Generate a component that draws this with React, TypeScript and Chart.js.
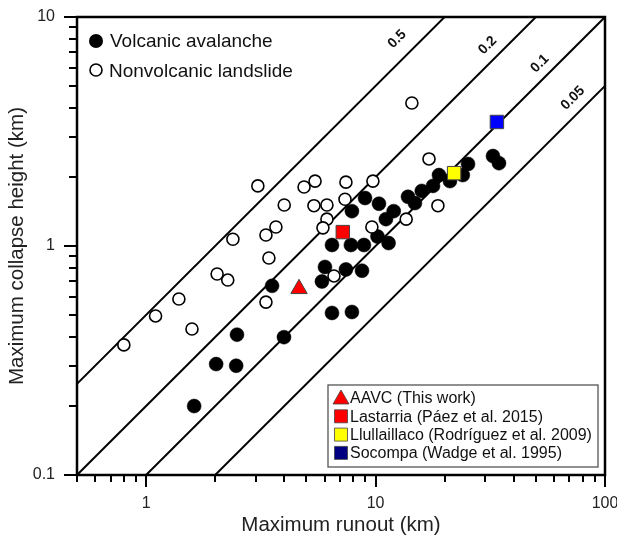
import React, { useEffect, useRef } from 'react';
import { Chart, registerables } from 'chart.js';

Chart.register(...registerables);

const FONT = '"Liberation Sans", Arial, Helvetica, sans-serif';

// Volcanic avalanches (filled circles)
const volcanicRunout = [1.62, 2.02, 2.47, 2.49, 3.54, 3.99, 6.46, 7.81, 8.9, 10.2, 7.89, 9.0, 10.35, 6.02, 5.84, 7.43, 8.73, 6.46, 7.89, 12.0, 11.1, 11.4, 13.85, 14.85, 15.9, 17.8, 18.9, 21.1, 24.0, 25.3, 32.5, 34.5];
const volcanicHeight = [0.2, 0.305, 0.3, 0.41, 0.67, 0.4, 1.01, 1.01, 1.01, 1.1, 1.42, 1.62, 1.53, 0.81, 0.7, 0.79, 0.78, 0.51, 0.515, 1.42, 1.31, 1.03, 1.64, 1.54, 1.74, 1.83, 2.04, 1.92, 2.04, 2.28, 2.47, 2.3];

// Nonvolcanic landslides (open circles)
const nonvolcanicRunout = [0.8, 1.1, 1.39, 1.585, 2.04, 2.27, 2.39, 3.07, 3.33, 3.33, 3.68, 3.43, 4.0, 4.88, 5.45, 5.39, 6.14, 6.14, 5.9, 7.36, 7.43, 9.74, 9.64, 6.59, 13.6, 17.1, 18.7, 14.4];
const nonvolcanicHeight = [0.37, 0.495, 0.587, 0.434, 0.755, 0.71, 1.07, 1.83, 0.569, 1.117, 1.21, 0.886, 1.51, 1.81, 1.92, 1.5, 1.51, 1.31, 1.2, 1.6, 1.9, 1.92, 1.21, 0.74, 1.31, 2.4, 1.5, 4.21];

// Highlighted deposits
const specialNames = ['AAVC (This work)', 'Lastarria (Páez et al. 2015)', 'Llullaillaco (Rodríguez et al. 2009)', 'Socompa (Wadge et al. 1995)'];
const specialRunout = [4.64, 7.2, 22.0, 33.8];
const specialHeight = [0.65, 1.15, 2.08, 3.48];
const specialColors = ['#ff0000', '#ff0000', '#ffff00', '#0000ff'];
const specialLegendColors = ['#ff0000', '#ff0000', '#ffff00', '#000080'];
const specialStyles = ['triangle', 'rect', 'rect', 'rect'];

// H/L reference lines
const ratioValues = [0.5, 0.2, 0.1, 0.05];
const ratioLabels = ['0.5', '0.2', '0.1', '0.05'];
const ratioLabelRunout = [14.1, 34.0, 57.0, 80.1];
const ratioLabelOffset = [18, 14, 13, 14];

// Axes
const xRange = [0.5, 100];
const yRange = [0.1, 10];
const xTicks = [0.5, 0.6, 0.7, 0.8, 0.9, 1, 2, 3, 4, 5, 6, 7, 8, 9, 10, 20, 30, 40, 50, 60, 70, 80, 90, 100];
const xMajor = [1, 10, 100];
const yTicks = [0.1, 0.2, 0.3, 0.4, 0.5, 0.6, 0.7, 0.8, 0.9, 1, 2, 3, 4, 5, 6, 7, 8, 9, 10];
const yMajor = [0.1, 1, 10];

const topLegend = ['Volcanic avalanche', 'Nonvolcanic landslide'];

const isMajor = (list: number[], v: number) => list.some((m) => Math.abs(m - v) < 1e-9);

const decorPlugin = {
  id: 'decor',
  afterDraw(chart: any) {
    const { ctx, chartArea: a, scales } = chart;
    const xs = scales.x;
    const ys = scales.y;
    ctx.save();

    // frame
    ctx.strokeStyle = '#000';
    ctx.lineWidth = 2.5;
    ctx.strokeRect(a.left, a.top, a.right - a.left, a.bottom - a.top);

    // ticks
    ctx.lineWidth = 2;
    ctx.beginPath();
    for (const t of xs.ticks) {
      const px = Math.round(xs.getPixelForValue(t.value));
      const len = isMajor(xMajor, t.value) ? 12 : 7;
      ctx.moveTo(px, a.bottom);
      ctx.lineTo(px, a.bottom + len);
    }
    for (const t of ys.ticks) {
      const py = Math.round(ys.getPixelForValue(t.value));
      const len = isMajor(yMajor, t.value) ? 13 : 8;
      ctx.moveTo(a.left, py);
      ctx.lineTo(a.left - len, py);
    }
    ctx.stroke();

    // ratio labels
    ctx.save();
    ctx.beginPath();
    ctx.rect(a.left, a.top, a.right - a.left, a.bottom - a.top);
    ctx.clip();
    ctx.fillStyle = '#111';
    ctx.font = `bold 14px ${FONT}`;
    ctx.textAlign = 'center';
    ctx.textBaseline = 'middle';
    ratioValues.forEach((r, i) => {
      const x1 = ratioLabelRunout[i];
      const x2 = x1 * 2;
      const p1x = xs.getPixelForValue(x1);
      const p1y = ys.getPixelForValue(r * x1);
      const p2x = xs.getPixelForValue(x2);
      const p2y = ys.getPixelForValue(r * x2);
      const dx = p2x - p1x;
      const dy = p2y - p1y;
      const len = Math.hypot(dx, dy);
      const nx = dy / len;
      const ny = -dx / len;
      const off = ratioLabelOffset[i];
      ctx.save();
      ctx.translate(p1x + nx * off, p1y + ny * off);
      ctx.rotate(Math.atan2(dy, dx));
      ctx.fillText(ratioLabels[i], 0, 0);
      ctx.restore();
    });
    ctx.restore();

    // top-left legend
    ctx.font = `19px ${FONT}`;
    ctx.textAlign = 'left';
    ctx.textBaseline = 'middle';
    const lx = a.left + 19;
    ctx.beginPath();
    ctx.arc(lx, a.top + 24, 7, 0, Math.PI * 2);
    ctx.fillStyle = '#000';
    ctx.fill();
    ctx.fillStyle = '#111';
    ctx.fillText(topLegend[0], a.left + 33, a.top + 25);
    ctx.beginPath();
    ctx.arc(lx, a.top + 53, 6, 0, Math.PI * 2);
    ctx.fillStyle = '#fff';
    ctx.fill();
    ctx.lineWidth = 1.6;
    ctx.strokeStyle = '#000';
    ctx.stroke();
    ctx.fillStyle = '#111';
    ctx.fillText(topLegend[1], a.left + 32, a.top + 55);

    // bottom-right legend box
    ctx.font = `16px ${FONT}`;
    let maxW = 0;
    specialNames.forEach((n) => { maxW = Math.max(maxW, ctx.measureText(n).width); });
    const boxW = Math.max(270, maxW + 28);
    const boxH = 82;
    const bx = a.right - 7 - boxW;
    const by = a.bottom - 8 - boxH;
    ctx.fillStyle = '#fff';
    ctx.fillRect(bx, by, boxW, boxH);
    ctx.strokeStyle = '#555';
    ctx.lineWidth = 1.3;
    ctx.strokeRect(bx, by, boxW, boxH);
    specialNames.forEach((n, i) => {
      const cy = by + 13 + i * 18.3;
      const cx = bx + 13;
      ctx.fillStyle = specialLegendColors[i];
      ctx.strokeStyle = '#444';
      ctx.lineWidth = 0.8;
      ctx.beginPath();
      if (specialStyles[i] === 'triangle') {
        ctx.moveTo(cx, cy - 8);
        ctx.lineTo(cx + 8, cy + 6);
        ctx.lineTo(cx - 8, cy + 6);
        ctx.closePath();
      } else {
        ctx.rect(cx - 6.5, cy - 6.5, 13, 13);
      }
      ctx.fill();
      ctx.stroke();
      ctx.fillStyle = '#111';
      ctx.fillText(n, bx + 22, cy + 1);
    });

    ctx.restore();
  },
};

export default function App() {
  const ref = useRef<HTMLCanvasElement | null>(null);

  useEffect(() => {
    if (!ref.current) return;
    const lineSets = ratioValues.map((r) => ({
      type: 'line' as const,
      data: [
        { x: xRange[0], y: r * xRange[0] },
        { x: xRange[1], y: r * xRange[1] },
      ],
      borderColor: '#000',
      borderWidth: 2,
      pointRadius: 0,
      fill: false,
      tension: 0,
    }));
    const chart = new Chart(ref.current, {
      type: 'scatter',
      data: {
        datasets: [
          ...specialNames.map((n, i) => ({
            label: n,
            data: [{ x: specialRunout[i], y: specialHeight[i] }],
            pointStyle: specialStyles[i],
            pointRadius: specialStyles[i] === 'triangle' ? 9.5 : 9.5,
            backgroundColor: specialColors[i],
            borderColor: '#444',
            borderWidth: 1,
          })),
          {
            label: topLegend[1],
            data: nonvolcanicRunout.map((x, i) => ({ x, y: nonvolcanicHeight[i] })),
            pointRadius: 6,
            backgroundColor: '#fff',
            borderColor: '#000',
            borderWidth: 1.6,
          },
          {
            label: topLegend[0],
            data: volcanicRunout.map((x, i) => ({ x, y: volcanicHeight[i] })),
            pointRadius: 7,
            backgroundColor: '#000',
            borderColor: '#000',
            borderWidth: 0.5,
          },
          ...lineSets,
        ] as any,
      },
      options: {
        responsive: false,
        animation: false,
        devicePixelRatio: 1,
        layout: { padding: { top: 17, right: 12, left: 0, bottom: 0 } },
        plugins: { legend: { display: false }, tooltip: { enabled: false } },
        scales: {
          x: {
            type: 'logarithmic',
            min: xRange[0],
            max: xRange[1],
            afterBuildTicks: (s: any) => { s.ticks = xTicks.map((v) => ({ value: v, major: isMajor(xMajor, v) })); },
            afterFit: (s: any) => { s.height = 61; s.paddingLeft = 0; s.paddingRight = 0; },
            grid: { display: false, drawTicks: false },
            border: { display: false },
            ticks: {
              autoSkip: false,
              maxRotation: 0,
              padding: 19,
              color: '#222',
              font: { size: 16, family: FONT },
              callback: (v: any) => (isMajor(xMajor, Number(v)) ? String(v) : ''),
            },
            title: {
              display: true,
              text: 'Maximum runout (km)',
              color: '#222',
              font: { size: 20.5, family: FONT, lineHeight: 1 },
              padding: { top: 0, bottom: 0 },
            },
          },
          y: {
            type: 'logarithmic',
            min: yRange[0],
            max: yRange[1],
            afterBuildTicks: (s: any) => { s.ticks = yTicks.map((v) => ({ value: v, major: isMajor(yMajor, v) })); },
            afterFit: (s: any) => { s.width = 77; s.paddingTop = 0; s.paddingBottom = 0; },
            grid: { display: false, drawTicks: false },
            border: { display: false },
            ticks: {
              autoSkip: false,
              padding: 22,
              color: '#222',
              font: { size: 16, family: FONT },
              callback: (v: any) => (isMajor(yMajor, Number(v)) ? String(v) : ''),
            },
            title: {
              display: true,
              text: 'Maximum collapse height (km)',
              color: '#222',
              font: { size: 20.5, family: FONT, lineHeight: 1 },
              padding: { top: 7, bottom: 0 },
            },
          },
        },
      } as any,
      plugins: [decorPlugin],
    });
    return () => chart.destroy();
  }, []);

  return (
    <div style={{ position: 'fixed', left: 0, top: 0, width: 617, height: 536, background: '#fff' }}>
      <canvas ref={ref} width={617} height={536} style={{ display: 'block' }} />
    </div>
  );
}
